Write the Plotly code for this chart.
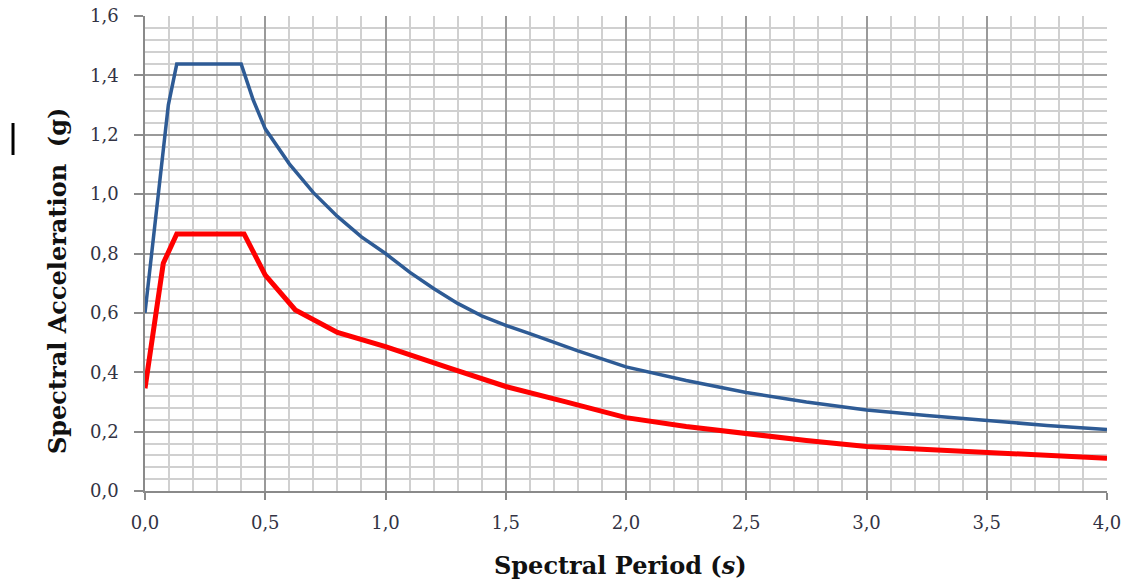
import plotly.graph_objects as go

# Spectral periods (s) and spectral accelerations (g)
period_blue = [0.0, 0.097, 0.132, 0.40, 0.45, 0.50, 0.60, 0.70, 0.80, 0.90, 1.00, 1.10, 1.20, 1.30, 1.40,
               1.50, 1.60, 1.70, 1.80, 1.90, 2.00, 2.25, 2.50, 2.75, 3.00, 3.25, 3.50, 3.75, 4.00]
accel_blue = [0.60, 1.30, 1.438, 1.438, 1.317, 1.220, 1.102, 1.005, 0.925, 0.856, 0.800, 0.737, 0.682, 0.632, 0.590,
              0.558, 0.530, 0.500, 0.472, 0.445, 0.418, 0.372, 0.332, 0.300, 0.273, 0.254, 0.237, 0.221, 0.207]

period_red = [0.0, 0.076, 0.132, 0.412, 0.50, 0.625, 0.80, 1.00, 1.27, 1.50, 1.75, 2.00, 2.25, 2.50, 2.75,
              3.00, 3.25, 3.50, 3.75, 4.00]
accel_red = [0.346, 0.767, 0.866, 0.866, 0.727, 0.610, 0.534, 0.486, 0.413, 0.352, 0.300, 0.247, 0.217, 0.193, 0.170,
             0.150, 0.139, 0.129, 0.119, 0.110]

x_tickvals = [0.0, 0.5, 1.0, 1.5, 2.0, 2.5, 3.0, 3.5, 4.0]
x_ticktext = ["0,0", "0,5", "1,0", "1,5", "2,0", "2,5", "3,0", "3,5", "4,0"]
y_tickvals = [0.0, 0.2, 0.4, 0.6, 0.8, 1.0, 1.2, 1.4, 1.6]
y_ticktext = ["0,0", "0,2", "0,4", "0,6", "0,8", "1,0", "1,2", "1,4", "1,6"]

x_title = "Spectral Period (<i>s</i>)"
y_title = "Spectral Acceleration\u00a0 (g)"

fig = go.Figure()
fig.add_trace(go.Scatter(x=period_blue, y=accel_blue, mode="lines",
                         line=dict(color="#2E5B95", width=3.5), showlegend=False))
fig.add_trace(go.Scatter(x=period_red, y=accel_red, mode="lines",
                         line=dict(color="#FF0000", width=5), showlegend=False))

font_family = "DejaVu Serif"
tick_font = dict(family=font_family, size=18, color="#333344")

fig.update_layout(
    width=1126, height=584,
    margin=dict(l=145, r=19, t=16, b=93),
    paper_bgcolor="white", plot_bgcolor="white",
    xaxis=dict(range=[0, 4], tickvals=x_tickvals, ticktext=x_ticktext, automargin=False,
               ticklabeloverflow="allow",
               showgrid=True, gridcolor="#9a9a9a", gridwidth=1.5,
               minor=dict(dtick=0.1, showgrid=True, gridcolor="#d0d0d0", gridwidth=2, ticks=""),
               ticks="outside", ticklen=7, tickcolor="#8a8a8a", tickwidth=1.5,
               showline=True, linecolor="#8a8a8a", linewidth=1.5, mirror=False,
               zeroline=False, tickfont=tick_font, ticklabelstandoff=8),
    yaxis=dict(range=[0, 1.6], tickvals=y_tickvals, ticktext=y_ticktext, automargin=False,
               ticklabeloverflow="allow",
               showgrid=True, gridcolor="#9a9a9a", gridwidth=1.5,
               minor=dict(dtick=0.04, showgrid=True, gridcolor="#d0d0d0", gridwidth=2, ticks=""),
               ticks="outside", ticklen=9, tickcolor="#8a8a8a", tickwidth=1.5,
               showline=True, linecolor="#8a8a8a", linewidth=1.5,
               zeroline=False, tickfont=tick_font, ticklabelstandoff=12),
    annotations=[
        dict(text="<b>" + x_title + "</b>", xref="paper", yref="paper", x=0.494, y=-0.156,
             xanchor="center", yanchor="middle", showarrow=False,
             font=dict(family=font_family, size=24, color="#111111")),
        dict(text="<b>" + y_title + "</b>", xref="paper", yref="paper", x=-0.0915, y=0.442,
             xanchor="center", yanchor="middle", showarrow=False, textangle=-90,
             font=dict(family=font_family, size=24, color="#111111")),
    ],
    shapes=[
        dict(type="line", xref="paper", yref="paper", x0=-0.1372, x1=-0.1372, y0=0.7074, y1=0.7747,
             line=dict(color="black", width=3)),
    ],
)

# Remove the default 8px page margin so the figure fills the window exactly; hide the mode bar.
fig.write_html("out.html", config={"displayModeBar": False},
               post_script="document.body.style.margin='0';document.body.style.overflow='hidden';")
